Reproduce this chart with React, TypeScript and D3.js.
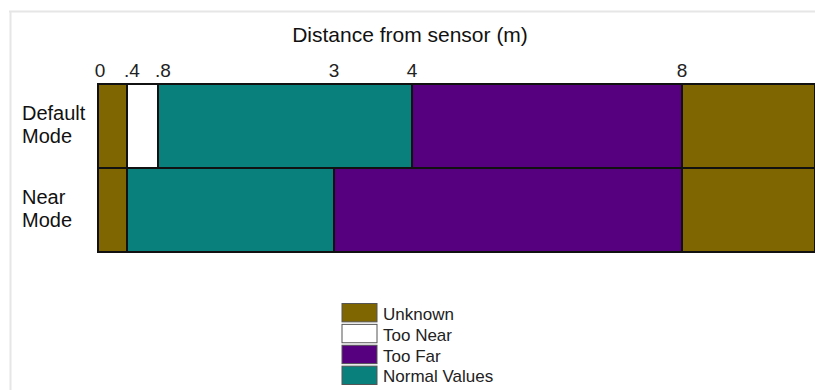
import React from "react";
import * as d3 from "d3";

const modes = ["Default Mode", "Near Mode"];
const categories = ["Unknown", "Too Near", "Too Far", "Normal Values"];
const colors = ["#806600", "#ffffff", "#560080", "#0a807c"];
const tickValues = [0, 0.4, 0.8, 3, 4, 8];
const tickLabels = ["0", ".4", ".8", "3", "4", "8"];
const defaultBounds = [0, 0.4, 0.8, 4, 8, 10];
const defaultCats = ["Unknown", "Too Near", "Normal Values", "Too Far", "Unknown"];
const nearBounds = [0, 0.4, 3, 8, 10];
const nearCats = ["Unknown", "Normal Values", "Too Far", "Unknown"];

const W = 815;
const H = 390;

export default function App() {
  const x = d3
    .scaleLinear()
    .domain([0, 0.4, 0.8, 3, 4, 8, 10])
    .range([98, 127, 158, 334, 412, 682, 815]);
  const y = d3.scaleBand().domain(modes).range([84, 252]).padding(0);
  const color = d3.scaleOrdinal<string, string>().domain(categories).range(colors);

  const rows = [
    { mode: modes[0], bounds: defaultBounds, cats: defaultCats },
    { mode: modes[1], bounds: nearBounds, cats: nearCats },
  ];

  const legendY = d3.scaleBand().domain(categories).range([301, 387]).padding(0.12);

  return (
    <svg
      width={W}
      height={H}
      style={{ position: "absolute", left: 0, top: 0, background: "#fff" }}
      fontFamily="'Liberation Sans', Arial, sans-serif"
    >
      <line x1={9} x2={W} y1={11.5} y2={11.5} stroke="#e6e6e6" strokeWidth={2} />
      <line x1={10.5} x2={10.5} y1={11} y2={H} stroke="#e6e6e6" strokeWidth={2} />
      <text x={410} y={42} fontSize={21} textAnchor="middle" fill="#111">
        Distance from sensor (m)
      </text>
      {tickValues.map((v, i) => (
        <text
          key={i}
          x={x(v) + (v === 0 ? 2 : v < 1 ? -3 : 0)}
          y={77}
          fontSize={19}
          textAnchor={v === 0 ? "middle" : v < 1 ? "start" : "middle"}
          fill="#222"
        >
          {tickLabels[i]}
        </text>
      ))}
      {rows.map((r) => (
        <g key={r.mode}>
          {r.cats.map((c, i) => (
            <rect
              key={i}
              x={x(r.bounds[i])}
              y={y(r.mode)!}
              width={x(r.bounds[i + 1]) - x(r.bounds[i])}
              height={y.bandwidth()}
              fill={color(c)}
              stroke="#111"
              strokeWidth={2}
            />
          ))}
          {r.mode.split(" ").map((w, j) => (
            <text
              key={j}
              x={22}
              y={y(r.mode)! + 36 + j * 23}
              fontSize={20}
              fill="#111"
            >
              {w}
            </text>
          ))}
        </g>
      ))}
      {categories.map((c) => (
        <g key={c}>
          <rect
            x={342}
            y={legendY(c)!}
            width={35}
            height={legendY.bandwidth()}
            fill={color(c)}
            stroke="#555"
            strokeWidth={1}
          />
          <text x={383} y={legendY(c)! + legendY.bandwidth() - 2} fontSize={17} fill="#222">
            {c}
          </text>
        </g>
      ))}
    </svg>
  );
}
